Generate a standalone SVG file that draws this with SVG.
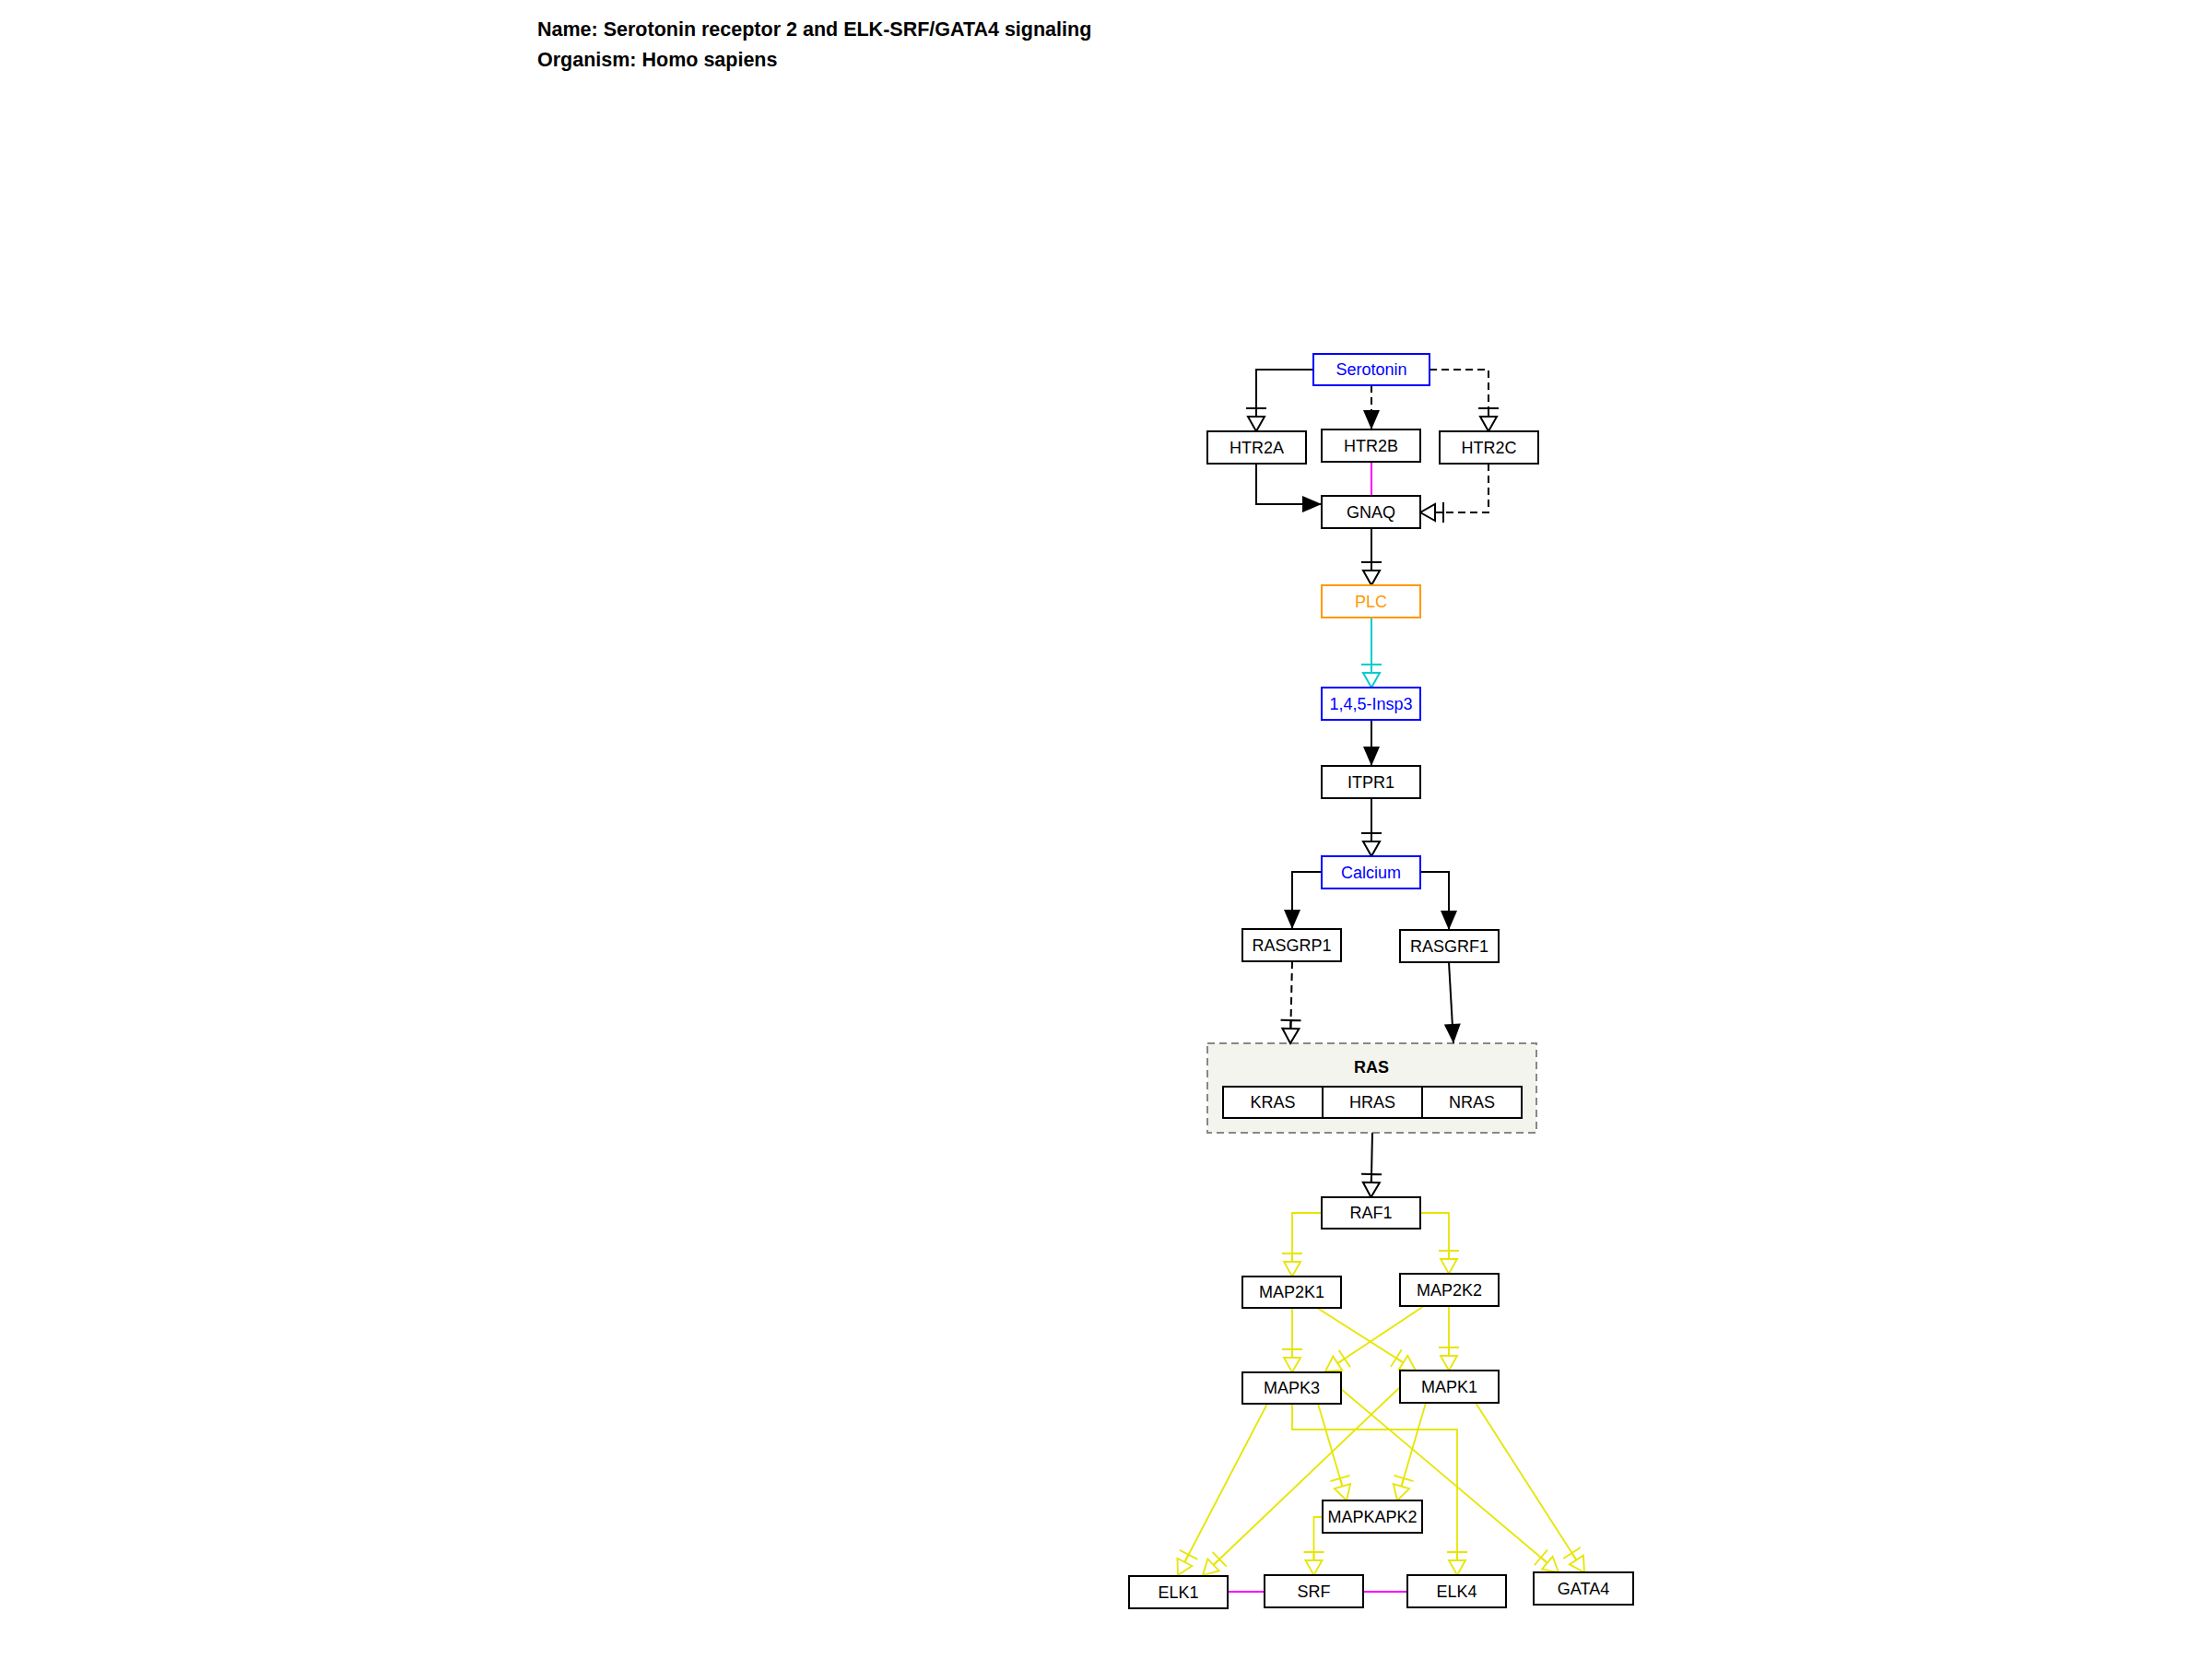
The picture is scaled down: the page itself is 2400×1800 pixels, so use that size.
<svg xmlns="http://www.w3.org/2000/svg" width="2400" height="1800" viewBox="0 0 2400 1800">
<style>
text{font-family:"Liberation Sans",Arial,sans-serif;}
.title{font-size:21.5px;font-weight:bold;fill:#000;}
.lbl{font-size:18px;text-anchor:middle;dominant-baseline:central;}
.n{fill:#fff;stroke:#000;stroke-width:2;}
.e{fill:none;stroke:#000;stroke-width:2;}
.d{stroke-dasharray:8,5;}
.y{fill:none;stroke:#e6e600;stroke-width:1.8;}
</style>
<defs>
<marker id="arr" markerUnits="userSpaceOnUse" markerWidth="22" markerHeight="20" refX="21" refY="9" orient="auto" overflow="visible">
<path d="M0,0 L21,9 L0,18 Z" fill="#000"/>
</marker>
<marker id="tb" markerUnits="userSpaceOnUse" markerWidth="30" markerHeight="24" refX="28" refY="11" orient="auto" overflow="visible">
<path d="M3,0 V22 M3,11 H12" stroke="#000" stroke-width="2" fill="none"/>
<path d="M12,2 L28,11 L12,20 Z" fill="#fff" stroke="#000" stroke-width="2"/>
</marker>
<marker id="tbc" markerUnits="userSpaceOnUse" markerWidth="30" markerHeight="24" refX="28" refY="11" orient="auto" overflow="visible">
<path d="M3,0 V22 M3,11 H12" stroke="#00cccc" stroke-width="2" fill="none"/>
<path d="M12,2 L28,11 L12,20 Z" fill="#fff" stroke="#00cccc" stroke-width="2"/>
</marker>
<marker id="tby" markerUnits="userSpaceOnUse" markerWidth="30" markerHeight="24" refX="28" refY="11" orient="auto" overflow="visible">
<path d="M3,0 V22 M3,11 H12" stroke="#e6e600" stroke-width="1.8" fill="none"/>
<path d="M12,2 L28,11 L12,20 Z" fill="#fff" stroke="#e6e600" stroke-width="1.8"/>
</marker>
</defs>
<rect width="2400" height="1800" fill="#fff"/>
<text class="title" x="583" y="39">Name: Serotonin receptor 2 and ELK-SRF/GATA4 signaling</text>
<text class="title" x="583" y="72">Organism: Homo sapiens</text>

<g id="RAS_group">
<rect x="1310" y="1132" width="357" height="97" fill="#f4f4ee" stroke="#888" stroke-width="2" stroke-dasharray="8,5"/>
<text x="1488" y="1158" style="font-size:18px;font-weight:bold;text-anchor:middle;dominant-baseline:central">RAS</text>
</g>

<g id="edges">
<path class="e" d="M1425,401 H1363 V468" marker-end="url(#tb)"/>
<path class="e d" d="M1488,418 V466" marker-end="url(#arr)"/>
<path class="e d" d="M1551,401 H1615 V468" marker-end="url(#tb)"/>
<path d="M1488,501 V538" stroke="#ff00ff" stroke-width="2"/>
<path class="e" d="M1363,503 V547 H1434" marker-end="url(#arr)"/>
<path class="e d" d="M1615,503 V556 H1541" marker-end="url(#tb)"/>
<path class="e" d="M1488,573 V635" marker-end="url(#tb)"/>
<path d="M1488,670 V746" fill="none" stroke="#00cccc" stroke-width="2" marker-end="url(#tbc)"/>
<path class="e" d="M1488,781 V831" marker-end="url(#arr)"/>
<path class="e" d="M1488,866 V929" marker-end="url(#tb)"/>
<path class="e" d="M1434,946 H1402 V1008" marker-end="url(#arr)"/>
<path class="e" d="M1541,946 H1572 V1009" marker-end="url(#arr)"/>
<path class="e d" d="M1402,1043 L1400,1132" marker-end="url(#tb)"/>
<path class="e" d="M1572,1044 L1577,1132" marker-end="url(#arr)"/>
<path class="e" d="M1489,1229 L1487.5,1299" marker-end="url(#tb)"/>
<path class="y" d="M1434,1316 H1402 V1385" marker-end="url(#tby)"/>
<path class="y" d="M1541,1316 H1572 V1382" marker-end="url(#tby)"/>
<path class="y" d="M1402,1419 V1489" marker-end="url(#tby)"/>
<path class="y" d="M1429,1419 L1536,1487" marker-end="url(#tby)"/>
<path class="y" d="M1545,1417 L1438,1488" marker-end="url(#tby)"/>
<path class="y" d="M1572,1417 V1487" marker-end="url(#tby)"/>
<path class="y" d="M1375,1523 L1278,1709" marker-end="url(#tby)"/>
<path class="y" d="M1519,1505 L1305,1709" marker-end="url(#tby)"/>
<path class="y" d="M1430,1523 L1461,1628" marker-end="url(#tby)"/>
<path class="y" d="M1547,1522 L1516,1628" marker-end="url(#tby)"/>
<path class="y" d="M1402,1523 V1551 H1581 V1709" marker-end="url(#tby)"/>
<path class="y" d="M1455,1507 L1691,1706" marker-end="url(#tby)"/>
<path class="y" d="M1601,1522 L1719,1706" marker-end="url(#tby)"/>
<path class="y" d="M1435,1646 H1425.5 V1709" marker-end="url(#tby)"/>
<path d="M1332,1727 H1372 M1479,1727 H1527" stroke="#ff00ff" stroke-width="2"/>
</g>

<g id="Serotonin"><rect x="1425" y="384" width="126" height="34" fill="#fff" stroke="#0000ff" stroke-width="2"/><text class="lbl" x="1488" y="401" fill="#0000ff">Serotonin</text></g>
<g id="HTR2A"><rect class="n" x="1310" y="468" width="107" height="35"/><text class="lbl" x="1363.5" y="485.5">HTR2A</text></g>
<g id="HTR2B"><rect class="n" x="1434" y="466" width="107" height="35"/><text class="lbl" x="1487.5" y="483.5">HTR2B</text></g>
<g id="HTR2C"><rect class="n" x="1562" y="468" width="107" height="35"/><text class="lbl" x="1615.5" y="485.5">HTR2C</text></g>
<g id="GNAQ"><rect class="n" x="1434" y="538" width="107" height="35"/><text class="lbl" x="1487.5" y="555.5">GNAQ</text></g>
<g id="PLC"><rect x="1434" y="635" width="107" height="35" fill="#fff" stroke="#ff9900" stroke-width="2"/><text class="lbl" x="1487.5" y="652.5" fill="#ff9900">PLC</text></g>
<g id="Insp3"><rect x="1434" y="746" width="107" height="35" fill="#fff" stroke="#0000ff" stroke-width="2"/><text class="lbl" x="1487.5" y="763.5" fill="#0000ff">1,4,5-Insp3</text></g>
<g id="ITPR1"><rect class="n" x="1434" y="831" width="107" height="35"/><text class="lbl" x="1487.5" y="848.5">ITPR1</text></g>
<g id="Calcium"><rect x="1434" y="929" width="107" height="35" fill="#fff" stroke="#0000ff" stroke-width="2"/><text class="lbl" x="1487.5" y="946.5" fill="#0000ff">Calcium</text></g>
<g id="RASGRP1"><rect class="n" x="1348" y="1008" width="107" height="35"/><text class="lbl" x="1401.5" y="1025.5">RASGRP1</text></g>
<g id="RASGRF1"><rect class="n" x="1519" y="1009" width="107" height="35"/><text class="lbl" x="1572.5" y="1026.5">RASGRF1</text></g>
<g id="KRAS"><rect class="n" x="1327" y="1179" width="108" height="34"/><text class="lbl" x="1381" y="1196">KRAS</text></g>
<g id="HRAS"><rect class="n" x="1435" y="1179" width="108" height="34"/><text class="lbl" x="1489" y="1196">HRAS</text></g>
<g id="NRAS"><rect class="n" x="1543" y="1179" width="108" height="34"/><text class="lbl" x="1597" y="1196">NRAS</text></g>
<g id="RAF1"><rect class="n" x="1434" y="1299" width="107" height="34"/><text class="lbl" x="1487.5" y="1316">RAF1</text></g>
<g id="MAP2K1"><rect class="n" x="1348" y="1385" width="107" height="34"/><text class="lbl" x="1401.5" y="1402">MAP2K1</text></g>
<g id="MAP2K2"><rect class="n" x="1519" y="1382" width="107" height="35"/><text class="lbl" x="1572.5" y="1399.5">MAP2K2</text></g>
<g id="MAPK3"><rect class="n" x="1348" y="1489" width="107" height="34"/><text class="lbl" x="1401.5" y="1506">MAPK3</text></g>
<g id="MAPK1"><rect class="n" x="1519" y="1487" width="107" height="35"/><text class="lbl" x="1572.5" y="1504.5">MAPK1</text></g>
<g id="MAPKAPK2"><rect class="n" x="1435" y="1628" width="108" height="35"/><text class="lbl" x="1489" y="1645.5">MAPKAPK2</text></g>
<g id="ELK1"><rect class="n" x="1225" y="1710" width="107" height="35"/><text class="lbl" x="1278.5" y="1727.5">ELK1</text></g>
<g id="SRF"><rect class="n" x="1372" y="1709" width="107" height="35"/><text class="lbl" x="1425.5" y="1726.5">SRF</text></g>
<g id="ELK4"><rect class="n" x="1527" y="1709" width="107" height="35"/><text class="lbl" x="1580.5" y="1726.5">ELK4</text></g>
<g id="GATA4"><rect class="n" x="1664" y="1706" width="108" height="35"/><text class="lbl" x="1718" y="1723.5">GATA4</text></g>
</svg>
